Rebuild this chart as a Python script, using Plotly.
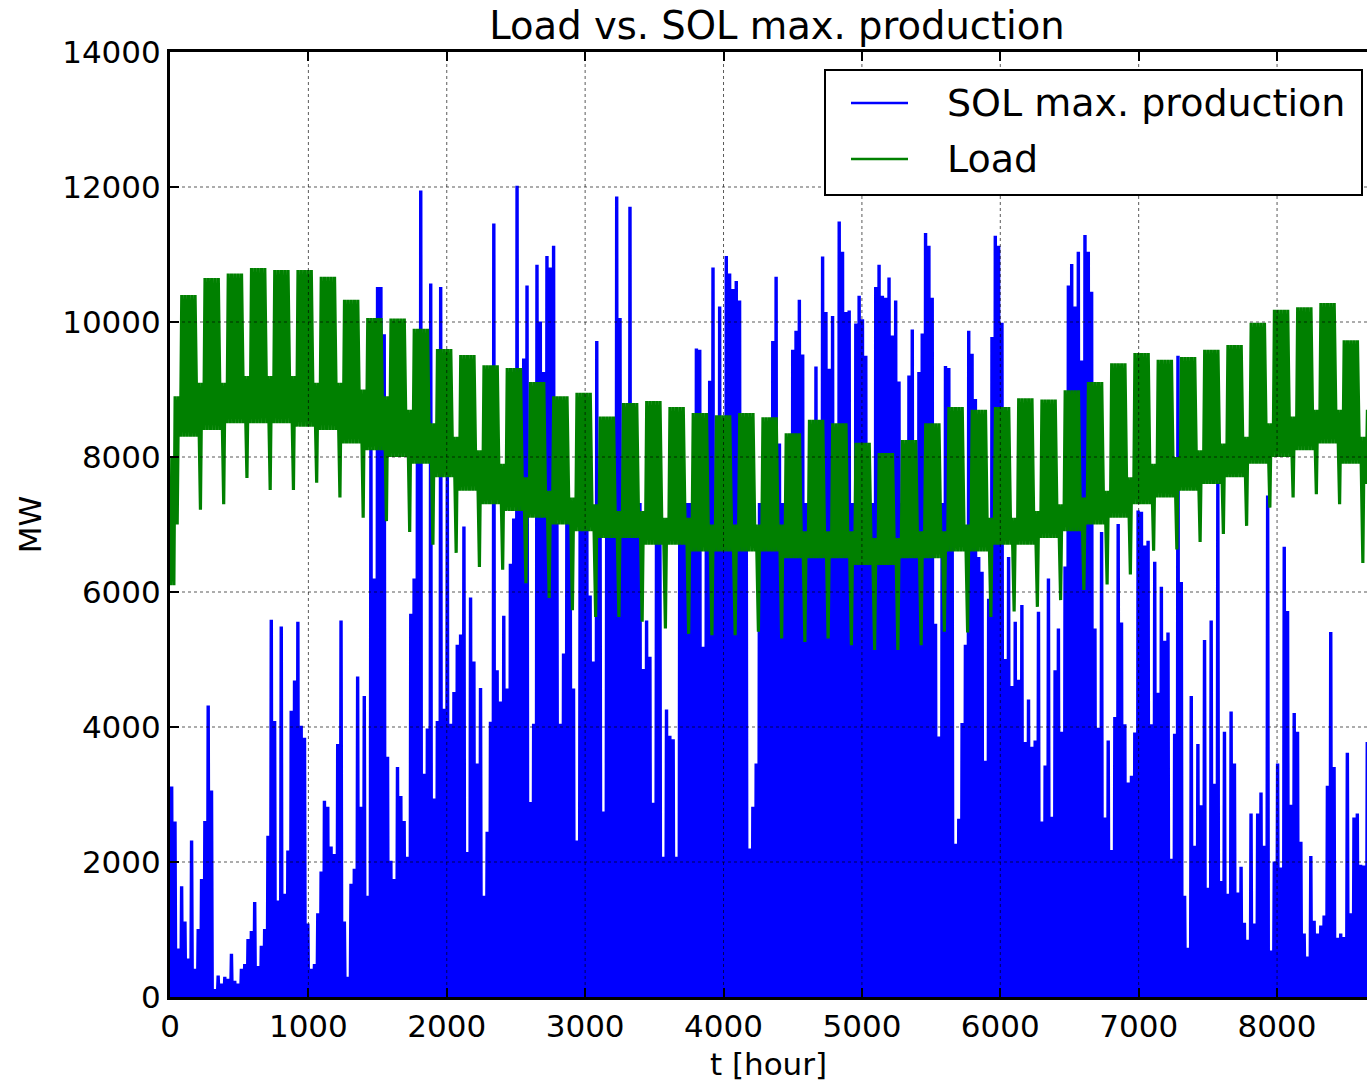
import plotly.graph_objects as go

# ---------------- data ----------------
# Daily maximum of SOL production [MW], one value per day (day 0 .. 360)
SOL_PEAK = [
    3100, 2580, 700, 1620, 1100, 550, 2300, 400, 990, 1730,
    2590, 4300, 3040, 100, 300, 180, 280, 250, 620, 220,
    180, 400, 470, 840, 960, 1390, 440, 740, 990, 2370,
    5570, 4070, 1410, 5470, 1510, 2150, 4220, 4670, 5540, 4000,
    3820, 1070, 400, 470, 1220, 1840, 2890, 2800, 2210, 2100,
    3730, 5560, 1100, 280, 1660, 1880, 4730, 2800, 4440, 1480,
    8100, 6180, 10500, 10500, 9800, 3540, 2000, 1730, 3390, 2960,
    2590, 2060, 5660, 6180, 8000, 11930, 3290, 3960, 10550, 2920,
    4070, 10500, 4250, 7760, 4030, 4500, 5200, 5350, 6950, 2130,
    5900, 4950, 3440, 4560, 1480, 2430, 4060, 11440, 4820, 4360,
    5630, 4550, 6400, 7070, 12000, 7400, 9440, 10520, 2870, 4030,
    10830, 9990, 9240, 10960, 10790, 11110, 7000, 4030,
    5070, 7300, 7300, 4550, 2300, 7300, 7300, 7300, 5930, 4950,
    9700, 7000, 2730, 7300, 7300, 7300, 11840, 10040, 7300, 7300,
    11690, 7300, 7300, 7300, 4840, 5560, 5020, 2860, 7300, 7300,
    2060, 4240, 3850, 3800, 2060, 7300, 7300, 7300, 7300, 7300,
    9590, 9570, 5170, 7300, 9110, 10790, 7300, 10210, 7300, 10960,
    10700, 10470, 10590, 10300, 7300, 7300, 2180, 2800, 3440, 7300,
    7300, 7300, 7300, 9700, 10650, 8180, 7300, 6990, 7300, 9570,
    9850, 10310, 9500, 7300, 7300, 7300, 9320, 7300, 10950, 10130,
    9290, 10070, 7300, 11470, 11020, 10130, 10150, 7300, 9960, 10370,
    10020, 9480, 7300, 7300, 10500, 10830, 10370, 10340, 10640, 9780,
    10300, 9100, 7300, 7300, 9190, 9870, 7300, 9240, 9810, 11300,
    11110, 10340, 5510, 3840, 7300, 9330, 9300, 7300, 2250, 2620,
    4040, 5200, 9850, 9510, 8840, 6500, 6280, 3480, 5880, 9760,
    11260, 11110, 9970, 4990, 6500, 4590, 5540, 4680, 5790, 3760,
    4390, 3690, 3780, 5690, 2580, 3410, 6180, 2650, 4820, 5440,
    3910, 6360, 10520, 10840, 10210, 11020, 9410, 11270, 11020, 10430,
    5440, 3970, 6870, 2640, 3780, 2160, 4130, 6990, 5530, 4020,
    3160, 3260, 3900, 7190, 7170, 6670, 6740, 4020, 6430, 4490,
    6060, 5260, 5380, 2030, 3880, 9480, 6130, 1480, 710, 4440,
    2220, 3730, 2820, 5270, 1600, 5560, 3140, 7600, 1700, 3910,
    1510, 4210, 3440, 1530, 1910, 1080, 830, 2700, 1070, 2700,
    3010, 2220, 7410, 670, 1990, 3440, 1900, 6650, 5700, 2830,
    4190, 3910, 2280, 920, 580, 2070, 1110, 920, 1040, 1190,
    3110, 5390, 3390, 860, 920, 870, 3600, 1220, 2640, 2700,
    1940, 1930, 3760,
]

# Load [MW], one value per week (week j covers days 7j-4 .. 7j+2; Mon..Sun)
WD_PEAK = [8000, 10400, 10650, 10720, 10800, 10770, 10770, 10670, 10330, 10060,
           10050, 9900, 9600, 9510, 9360, 9320, 9110, 8900, 8950, 8600,
           8800, 8830, 8740, 8650, 8620, 8650, 8590, 8350, 8550, 8500,
           8210, 8060, 8250, 8500, 8740, 8700, 8740, 8870, 8850, 8990,
           9110, 9390, 9540, 9440, 9480, 9590, 9660, 9990, 10180, 10220,
           10280, 9730, 8700]
WD_MIN = [6100, 8300, 8400, 8500, 8500, 8500, 8450, 8400, 8200, 8100,
          8000, 7900, 7700, 7500, 7300, 7200, 7100, 7000, 6900, 6800,
          6800, 6700, 6700, 6600, 6600, 6600, 6600, 6500, 6500, 6500,
          6400, 6400, 6500, 6500, 6600, 6600, 6700, 6700, 6800, 6900,
          7000, 7100, 7300, 7400, 7500, 7600, 7700, 7900, 8000, 8100,
          8200, 7900, 7600]
WE_PEAK = [8900, 9100, 9100, 9200, 9200, 9200, 9100, 9100, 9000, 8900,
           8700, 8500, 8300, 8100, 7900, 7700, 7500, 7400, 7300, 7200,
           7200, 7100, 7100, 7000, 7000, 7000, 7000, 6900, 6900, 6900,
           6800, 6800, 6900, 6900, 7000, 7100, 7100, 7200, 7300, 7400,
           7500, 7700, 7900, 8000, 8100, 8200, 8300, 8500, 8600, 8700,
           8700, 8300, 8000]
WE_MIN = [7000, 7220, 7300, 7690, 7510, 7510, 7620, 7400, 7100, 7050,
          6890, 6700, 6580, 6370, 6330, 6130, 5910, 5730, 5630, 5630,
          5560, 5460, 5380, 5360, 5360, 5410, 5310, 5260, 5310, 5210,
          5140, 5140, 5210, 5410, 5400, 5630, 5710, 5780, 5880, 6030,
          6110, 6260, 6610, 6630, 6740, 6860, 6980, 7250, 7400, 7450,
          7300, 6430, 6600]

X_TICKS = [0, 1000, 2000, 3000, 4000, 5000, 6000, 7000, 8000]
Y_TICKS = [0, 2000, 4000, 6000, 8000, 10000, 12000, 14000]

# ---------------- build hourly vertices ----------------
sol_x, sol_y = [], []
for d, p in enumerate(SOL_PEAK):
    sol_x += [24 * d + 4, 24 * d + 9, 24 * d + 15, 24 * d + 20]
    sol_y += [0, p, p, 0]

load_x, load_y = [], []
for d in range(len(SOL_PEAK)):
    j, pos = divmod(d + 4, 7)
    if pos < 5:
        lo, hi = WD_MIN[j], WD_PEAK[j]
    elif pos == 5:
        lo, hi = WD_MIN[j], WE_PEAK[j]
    else:
        lo, hi = WE_MIN[j], WE_PEAK[j]
    load_x += [24 * d + 4, 24 * d + 13]
    load_y += [lo, hi]

# ---------------- figure ----------------
W, H = 1367, 1082
L, R, T, B = 170, 0, 52, 85
PW, PH = W - L - R, H - T - B
FONT = "DejaVu Sans"

def px(xp):
    return (xp - L) / PW

def py(yp):
    return (H - B - yp) / PH

fig = go.Figure()
fig.add_trace(go.Scatter(x=sol_x, y=sol_y, mode="lines", name="SOL max. production",
                         line=dict(color="#0000ff", width=2.6), showlegend=False))
fig.add_trace(go.Scatter(x=load_x, y=load_y, mode="lines", name="Load",
                         line=dict(color="#008000", width=3.2), showlegend=False))

shapes = []
for v in X_TICKS[1:]:
    shapes.append(dict(type="line", xref="x", yref="y", x0=v, x1=v, y0=Y_TICKS[0], y1=Y_TICKS[-1],
                       line=dict(color="rgba(0,0,0,0.65)", width=1, dash="dot"), layer="above"))
for v in Y_TICKS[1:-1]:
    shapes.append(dict(type="line", xref="paper", yref="y", x0=0, x1=1, y0=v, y1=v,
                       line=dict(color="rgba(0,0,0,0.65)", width=1, dash="dot"), layer="above"))

# legend box
shapes.append(dict(type="rect", xref="paper", yref="paper", x0=px(825), x1=px(1362), y0=py(195), y1=py(70),
                   line=dict(color="black", width=2), fillcolor="white", layer="above"))
shapes.append(dict(type="line", xref="paper", yref="paper", x0=px(851), x1=px(908), y0=py(103), y1=py(103),
                   line=dict(color="#0000ff", width=2.5), layer="above"))
shapes.append(dict(type="line", xref="paper", yref="paper", x0=px(851), x1=px(908), y0=py(159), y1=py(159),
                   line=dict(color="#008000", width=2.5), layer="above"))

annotations = [
    dict(text="SOL max. production", xref="paper", yref="paper", x=px(945), y=py(103),
         xanchor="left", yanchor="middle", showarrow=False, font=dict(family=FONT, size=38, color="black")),
    dict(text="Load", xref="paper", yref="paper", x=px(945), y=py(159),
         xanchor="left", yanchor="middle", showarrow=False, font=dict(family=FONT, size=38, color="black")),
]

axis_common = dict(
    ticks="inside", ticklen=9, tickwidth=1.5, tickcolor="black",
    showline=True, linewidth=3, linecolor="black",
    showgrid=False, zeroline=False, automargin=False,
    tickformat="d",
    tickfont=dict(family=FONT, size=31, color="black"),
)

fig.update_layout(
    width=W, height=H,
    margin=dict(l=L, r=R, t=T, b=B, pad=0, autoexpand=False),
    paper_bgcolor="white", plot_bgcolor="white",
    title=dict(text="Load vs. SOL max. production", x=777 / W, xref="container", xanchor="center",
               y=1 - 26 / H, yref="container", yanchor="middle",
               font=dict(family=FONT, size=38.5, color="black")),
    xaxis=dict(range=[0, 8650], tickvals=X_TICKS, mirror="ticks",
               title=dict(text="t [hour]", font=dict(family=FONT, size=31, color="black"), standoff=14),
               **axis_common),
    yaxis=dict(range=[0, 14000], tickvals=Y_TICKS, mirror=False,
               title=dict(text="MW", font=dict(family=FONT, size=31, color="black"), standoff=12),
               **axis_common),
    shapes=shapes,
    annotations=annotations,
    showlegend=False,
)

fig.write_html("out.html", config={"displayModeBar": False},
               post_script="document.body.style.margin='0';document.body.style.overflow='hidden';")
